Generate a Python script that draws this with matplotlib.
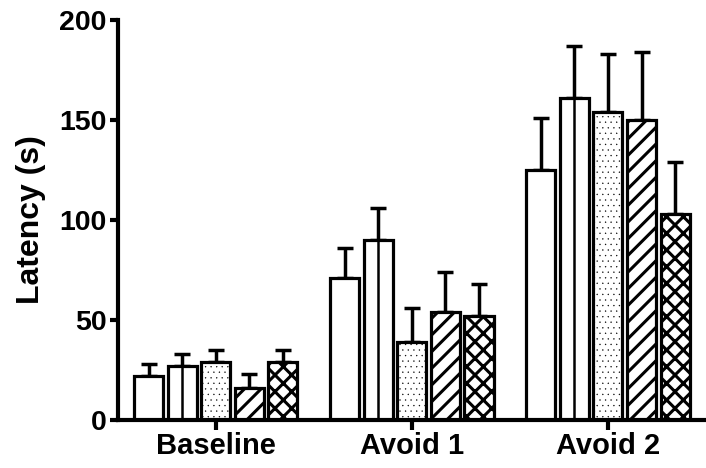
import matplotlib
matplotlib.use("Agg")
import matplotlib.pyplot as plt
import numpy as np

plt.rcParams['font.family'] = ['Liberation Sans', 'DejaVu Sans']
plt.rcParams['font.weight'] = 'bold'
plt.rcParams['hatch.linewidth'] = 2.2
plt.rcParams['hatch.color'] = 'black'

groups = ["Baseline", "Avoid 1", "Avoid 2"]
means = [
    [22, 27, 29, 16, 29],
    [71, 90, 39, 54, 52],
    [125, 161, 154, 150, 103],
]
errors = [
    [6, 6, 6, 7, 6],
    [15, 16, 17, 20, 16],
    [26, 26, 29, 34, 26],
]
hatches = ['', '', '...', '//', 'xx']
yticks = [0, 50, 100, 150, 200]

fig = plt.figure(figsize=(7.06, 4.68), dpi=100)
ax = fig.add_axes([0.167, 0.1026, 0.833, 0.855])

n = 5
pitch = 0.171
width = 0.148
x = np.arange(len(groups))
for i in range(n):
    vals = [m[i] for m in means]
    errs = [e[i] for e in errors]
    pos = x + (i - 2) * pitch
    bars = ax.bar(pos, vals, width=width, color='white', edgecolor='black',
                  linewidth=2.3, hatch=hatches[i], zorder=2)
    if hatches[i].startswith('.'):
        for b in bars:
            try:
                b.set_hatch_linewidth(0.2)
            except AttributeError:
                pass
    ax.errorbar(pos, vals, yerr=[np.zeros(len(vals)), errs], fmt='none',
                ecolor='black', elinewidth=2.5, capsize=6, capthick=2.5, zorder=1)
    if i == 1:
        ax.vlines(pos, 0, vals, colors='black', linewidth=1.8, zorder=3)

ax.set_xlim(-0.5, 2.5)
ax.set_ylim(0, 200)
ax.set_yticks(yticks)
ax.set_xticks(x)
ax.set_xticklabels(groups, fontsize=21, fontweight='bold')
ax.tick_params(axis='y', labelsize=20.5, width=3, length=6, direction='out', pad=2)
ax.tick_params(axis='x', width=3, length=7, direction='out', pad=2)
for lab in ax.get_yticklabels():
    lab.set_fontweight('bold')
ax.set_ylabel('Latency (s)', fontsize=23, fontweight='bold', labelpad=10)

for s in ['top', 'right']:
    ax.spines[s].set_visible(False)
for s in ['left', 'bottom']:
    ax.spines[s].set_linewidth(3)
ax.spines['bottom'].set_zorder(4)

fig.savefig('out.png', dpi=100)
